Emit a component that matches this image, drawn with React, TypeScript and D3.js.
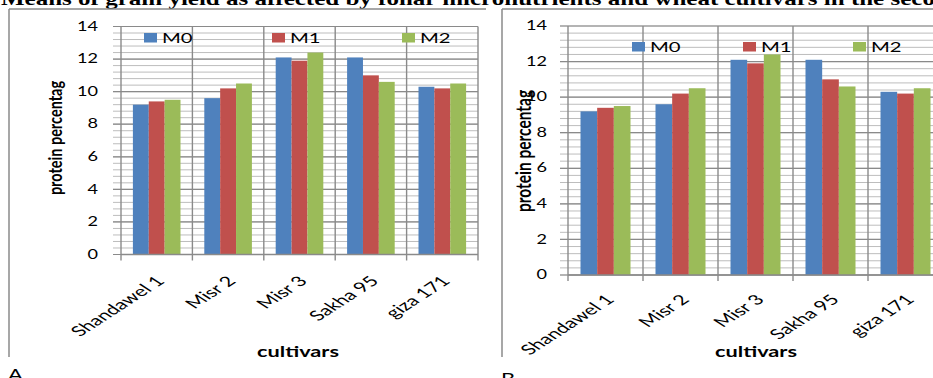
import React from "react";
import * as d3 from "d3";

const categories = ["Shandawel 1", "Misr 2", "Misr 3", "Sakha 95", "giza 171"];
const seriesNames = ["M0", "M1", "M2"];
const m0Values = [9.2, 9.6, 12.1, 12.1, 10.3];
const m1Values = [9.4, 10.2, 11.9, 11.0, 10.2];
const m2Values = [9.5, 10.5, 12.4, 10.6, 10.5];
const yTicks = [0, 2, 4, 6, 8, 10, 12, 14];
const seriesColors = ["#4F81BD", "#C0504D", "#9BBB59"];
const titleText =
  "Means of grain yield as affected by foliar micronutrients and wheat cultivars in the second season";

const seriesValues = [m0Values, m1Values, m2Values];

const SX = 1.45;
const SXL = 1.55;
const FONT = "Lato, 'Open Sans', sans-serif";

type PanelProps = {
  frameX: number;
  frameRight: number;
  left: number;
  catW: number;
  yTop: number;
  y0: number;
  tickRight: number;
  yLabel: [number, number];
  legendX: number[];
  legendY: number;
  xTitle: [number, number];
  xLabelDx: number;
  xLabelDy: number;
  letter: string;
  letterY: number;
  fs: number;
};

function Panel(p: PanelProps) {
  const right = p.left + p.catW * categories.length;
  const x = d3.scaleBand<string>().domain(categories).range([p.left, right]).padding(0);
  const xs = d3
    .scaleBand<string>()
    .domain(seriesNames)
    .range([0, p.catW])
    .paddingInner(0)
    .paddingOuter(0.75);
  const y = d3.scaleLinear().domain([0, 14]).range([p.y0, p.yTop]);
  const minor = d3.range(0, 14.001, 0.4).map((v) => +v.toFixed(2));
  const gridMajor = "#8a8a8a";
  const gridMinor = "#bdbdbd";
  const boundaries = d3.range(0, categories.length + 1).map((i) => p.left + i * p.catW);

  return (
    <g>
      {/* frame */}
      <line x1={p.frameX} y1={9} x2={p.frameRight} y2={9} stroke="#8a8a8a" strokeWidth={1.5} />
      <line x1={p.frameX} y1={9} x2={p.frameX} y2={357} stroke="#8a8a8a" strokeWidth={1.5} />
      {/* minor gridlines */}
      {minor.map((v) => (
        <line key={"mi" + v} x1={p.left - 8} x2={right} y1={y(v)} y2={y(v)} stroke={gridMinor} strokeWidth={1} />
      ))}
      {/* major gridlines */}
      {yTicks.map((v) => (
        <line key={"ma" + v} x1={p.left - 8} x2={right} y1={y(v)} y2={y(v)} stroke={gridMajor} strokeWidth={1.2} />
      ))}
      {/* vertical category gridlines + ticks */}
      {boundaries.map((bx, i) => (
        <line key={"vb" + i} x1={bx} x2={bx} y1={p.yTop} y2={p.y0 + 6} stroke={gridMajor} strokeWidth={1.4} />
      ))}
      {/* bars */}
      {categories.map((c, ci) =>
        seriesNames.map((s, si) => {
          const v = seriesValues[si][ci];
          const bx = (x(c) as number) + (xs(s) as number);
          return (
            <rect
              key={c + s}
              x={bx}
              y={y(v)}
              width={xs.bandwidth()}
              height={y(0) - y(v)}
              fill={seriesColors[si]}
            />
          );
        })
      )}
      {/* x axis line */}
      <line x1={p.left} x2={right} y1={p.y0} y2={p.y0} stroke={gridMajor} strokeWidth={1.4} />
      {/* y tick labels */}
      {yTicks.map((v) => (
        <text
          key={"yt" + v}
          transform={`translate(${p.tickRight},${y(v) + 1}) scale(${SX},1)`}
          textAnchor="end"
          dominantBaseline="middle"
          fontFamily={FONT}
          fontSize={p.fs}
          fill="#000"
        >
          {v}
        </text>
      ))}
      {/* x tick labels */}
      {categories.map((c) => (
        <text
          key={"xl" + c}
          transform={`translate(${(x(c) as number) + p.catW / 2 + p.xLabelDx},${p.y0 + p.xLabelDy}) scale(${SXL},1) rotate(-45)`}
          textAnchor="end"
          dominantBaseline="middle"
          fontFamily={FONT}
          fontSize={14}
          fill="#000"
        >
          {c}
        </text>
      ))}
      {/* y axis title */}
      <text
        transform={`translate(${p.yLabel[0]},${p.yLabel[1]}) scale(1.3,1) rotate(-90)`}
        textAnchor="middle"
        dominantBaseline="middle"
        fontFamily={FONT}
        fontWeight="bold"
        fontSize={p.letter === "A" ? 14.5 : 15.5}
        fill="#000"
      >
        protein percentag
      </text>
      {/* x axis title */}
      <text
        transform={`translate(${p.xTitle[0]},${p.xTitle[1]}) scale(${SX},1)`}
        textAnchor="middle"
        fontFamily={FONT}
        fontWeight="bold"
        fontSize={15}
        fill="#000"
      >
        cultivars
      </text>
      {/* legend */}
      {seriesNames.map((s, i) => (
        <g key={"lg" + s}>
          <rect x={p.legendX[i]} y={p.legendY - 10} width={13} height={9.5} fill={seriesColors[i]} />
          <text
            transform={`translate(${p.legendX[i] + 18},${p.legendY}) scale(${SX},1)`}
            fontFamily={FONT}
            fontSize={14}
            fill="#000"
          >
            {s}
          </text>
        </g>
      ))}
      {/* panel letter */}
      <text
        transform={`translate(${p.frameX - 1},${p.letterY}) scale(${SX},1)`}
        fontFamily={FONT}
        fontSize={15}
        fill="#000"
      >
        {p.letter}
      </text>
    </g>
  );
}

export default function App() {
  return (
    <svg
      width={933}
      height={378}
      style={{ position: "fixed", left: 0, top: 0, background: "#fff" }}
    >
      <rect x={0} y={0} width={933} height={378} fill="#fff" />
      <text
        transform={`translate(1,5) scale(1.39,1)`}
        fontFamily="'Liberation Serif', 'Times New Roman', serif"
        fontWeight="bold"
        fontSize={18}
        fill="#000"
      >
        {titleText}
      </text>
      <Panel
        frameX={9}
        frameRight={486}
        left={121}
        catW={71.4}
        yTop={26.5}
        y0={254.5}
        tickRight={98}
        yLabel={[57, 138]}
        legendX={[144, 272, 402]}
        legendY={43}
        xTitle={[298, 357]}
        xLabelDx={5}
        xLabelDy={25}
        letter="A"
        letterY={380}
        fs={12.5}
      />
      <Panel
        frameX={502}
        frameRight={933}
        left={568}
        catW={75}
        yTop={26}
        y0={275}
        tickRight={547}
        yLabel={[526, 151]}
        legendX={[632, 743, 853]}
        legendY={52}
        xTitle={[756, 357]}
        xLabelDx={6}
        xLabelDy={23}
        letter="B"
        letterY={384}
        fs={12.5}
      />
    </svg>
  );
}
